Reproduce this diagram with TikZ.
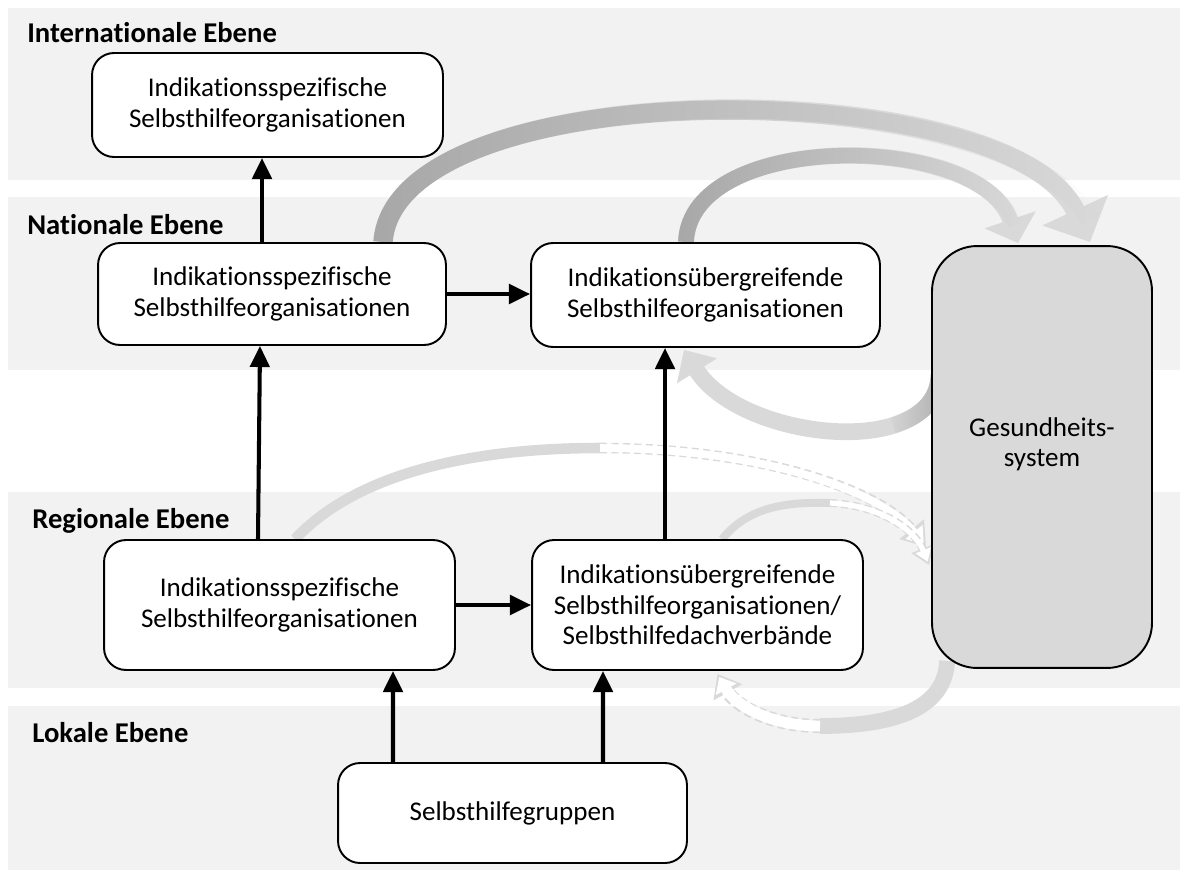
\documentclass[tikz,border=0pt]{standalone}
\usepackage{fontspec}
\setmainfont{Carlito}[Ligatures=NoCommon]
\usepackage{tikz}
\usetikzlibrary{arrows.meta,calc,fadings}
\definecolor{band}{HTML}{F2F2F2}
\definecolor{feedlight}{HTML}{D9D9D9}
\definecolor{feeddark}{HTML}{A8A8A8}
\definecolor{sysfill}{HTML}{D9D9D9}
\tikzfading[name=fade right, left color=transparent!0, middle color=transparent!85, right color=transparent!100]
\tikzfading[name=fade left, left color=transparent!100, right color=transparent!10]
\pgfdeclarelayer{back}
\pgfdeclarelayer{feed}
\pgfsetlayers{back,feed,main}

\begin{document}
\begin{tikzpicture}[x=0.02cm,y=-0.02cm,
  box/.style={draw,line width=1.1pt,rounded corners=0.44cm,fill=white,align=center,inner sep=0pt,font=\fontsize{15.4}{17.3}\selectfont},
  level/.style={anchor=west,inner sep=0pt,font=\fontsize{16.3}{19}\selectfont\bfseries},
  up/.style={line width=2.3pt,-{Triangle[length=12pt,width=11pt]}},
  feed/.style={line width=11pt,draw=feedlight},
  thinfeed/.style={line width=6pt,draw=feedlight},
  ghostedge/.style={draw=feedlight,line width=6pt,dash pattern=on 4pt off 2.5pt},
  ghostcore/.style={draw=white,line width=4.4pt}]
\useasboundingbox (0,0) rectangle (1180,872);

% levels
\begin{pgfonlayer}{back}
\fill[band] (8,8) rectangle (1180,180);
\fill[band] (8,197) rectangle (1180,370);
\fill[band] (8,492) rectangle (1180,688);
\fill[band] (8,706) rectangle (1180,870);
\end{pgfonlayer}
\node[level] (intlabel) at (27,33) {Internationale Ebene};
\node[level] (natlabel) at (27,225) {Nationale Ebene};
\node[level] (reglabel) at (32,521) {Regionale Ebene};
\node[level] (loklabel) at (32,733) {Lokale Ebene};

% organisations
\node[box,minimum width=7.02cm,minimum height=2.08cm] (intspez) at (267.5,105) {Indikationsspezifische\\Selbsthilfeorganisationen};
\node[box,minimum width=6.96cm,minimum height=2.04cm] (natspez) at (272,294) {Indikationsspezifische\\Selbsthilfeorganisationen};
\node[box,minimum width=6.98cm,minimum height=2.08cm] (natueb) at (705.5,295) {Indikationsübergreifende\\Selbsthilfeorganisationen};
\node[box,minimum width=7.02cm,minimum height=2.6cm] (regspez) at (279.5,605) {Indikationsspezifische\\Selbsthilfeorganisationen};
\node[box,minimum width=6.62cm,minimum height=2.6cm] (regueb) at (697.5,605) {Indikationsübergreifende\\Selbsthilfeorganisationen/\\Selbsthilfedachverbände};
\node[box,minimum width=6.98cm,minimum height=2.0cm] (gruppen) at (512.5,813) {Selbsthilfegruppen};
\node[box,fill=sysfill,rounded corners=0.9cm,minimum width=4.4cm,minimum height=8.44cm] (gesund) at (1042,457) {Gesundheits-\\system\\[-0.5pt]\mbox{}};

% upward structure
\draw[up] ($(natspez.north)+(-10,0)$) -- ($(intspez.south)+(-5.5,0)$);
\draw[up] ($(regspez.north)+(-21.5,0)$) -- ($(natspez.south)+(-12,0)$);
\draw[up] (natspez.east) -- (natspez.east -| natueb.west);
\draw[up] (regspez.east) -- (regspez.east -| regueb.west);
\draw[up] ($(regueb.north)+(-32.5,0)$) -- ($(natueb.south)+(-40.5,0)$);
\draw[up] ($(gruppen.north)+(-119.5,0)$) -- ($(regspez.south)+(113.5,0)$);
\draw[up] ($(gruppen.north)+(90.5,0)$) -- ($(regueb.south)+(-94.5,0)$);

% exchange with the health system
\begin{pgfonlayer}{feed}
\draw[feed,-{Triangle[length=20pt,width=40pt]}] ($(natspez.north)+(111,0)$) .. controls (395,70) and (1010,70) .. ($(gesund.north)+(48,-3)$);
\draw[feed,draw=feeddark,path fading=fade right] ($(natspez.north)+(111,0)$) .. controls (395,70) and (1010,70) .. ($(gesund.north)+(48,-25)$);
\draw[feed,line width=9pt,-{Triangle[length=14pt,width=30pt]}] ($(natueb.north)+(-19.5,0)$) .. controls (690,130) and (980,130) .. ($(gesund.north)+(-24,-2)$);
\draw[feed,line width=9pt,draw=feeddark,path fading=fade right] ($(natueb.north)+(-19.5,0)$) .. controls (690,130) and (980,130) .. ($(gesund.north)+(-26,-20)$);
\draw[feed,line width=9.5pt,-{Triangle[length=14pt,width=26pt]}] ($(gesund.west)+(8,-82)$) .. controls (935,462) and (740,440) .. ($(natueb.south)+(-21.5,2)$);
\draw[feed,line width=9.5pt,draw=feeddark,path fading=fade left] ($(gesund.west)+(8,-82)$) .. controls (938.5,401) and (920,417) .. (893,425);
\draw[thinfeed] ($(regspez.north)+(15.5,0)$) .. controls (360,470) and (480,448) .. (600,448) coordinate (dmid);
\draw[ghostedge,-{Triangle[length=13pt,width=17pt]}] (dmid) .. controls (760,448) and (880,490) .. ($(gesund.west)+(-5,90)$);
\draw[ghostcore,shorten >=2pt,-{Triangle[length=9pt,width=12pt]}] (dmid) .. controls (760,448) and (880,490) .. ($(gesund.west)+(-5,90)$);
\draw[thinfeed,line width=4.5pt] ($(regueb.north)+(24.5,0)$) .. controls (750,505) and (790,502) .. (830,503) coordinate (emid);
\draw[ghostedge,line width=4.5pt,-{Triangle[length=10pt,width=13pt]}] (emid) .. controls (880,505) and (915,530) .. ($(gesund.west)+(-2,108)$);
\draw[ghostcore,line width=3pt,shorten >=2pt,-{Triangle[length=7pt,width=9pt]}] (emid) .. controls (880,505) and (915,530) .. ($(gesund.west)+(-2,108)$);
\draw[thinfeed,line width=9pt] ($(gesund.south west)+(16,-8)$) .. controls (945,715) and (880,726) .. (820,726) coordinate (fmid);
\draw[ghostedge,line width=8pt,-{Triangle[length=12pt,width=18pt]}] (fmid) .. controls (770,726) and (735,705) .. ($(regueb.south)+(20,3)$);
\draw[ghostcore,line width=6.2pt,shorten >=2pt,-{Triangle[length=8pt,width=13pt]}] (fmid) .. controls (770,726) and (735,705) .. ($(regueb.south)+(20,3)$);
\end{pgfonlayer}
\end{tikzpicture}
\end{document}
